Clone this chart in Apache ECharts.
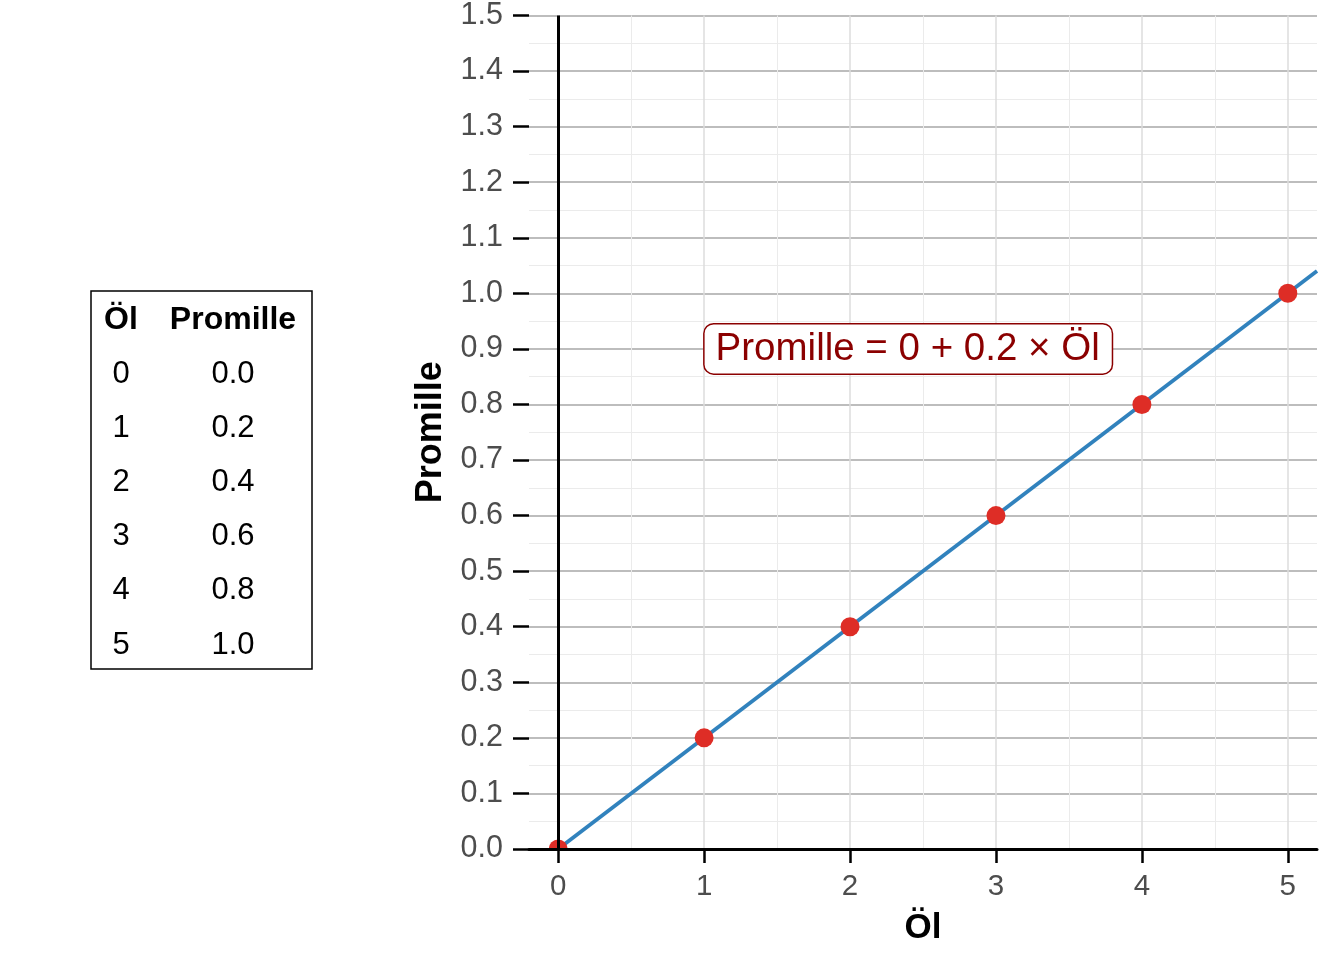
<!DOCTYPE html>
<html>
<head>
<meta charset="utf-8">
<script src="https://cdn.jsdelivr.net/npm/echarts@6/dist/echarts.min.js"></script>
<style>
html,body{margin:0;padding:0;background:#fff;}
#chart{width:1344px;height:960px;}
</style>
</head>
<body>
<div id="chart"></div>
<script>
// ---- data ----
const oel = [0, 1, 2, 3, 4, 5];
const promille = [0.0, 0.2, 0.4, 0.6, 0.8, 1.0];
const intercept = 0;
const slope = 0.2;
const xTicks = [0, 1, 2, 3, 4, 5];
const xMinorGrid = [0.5, 1.5, 2.5, 3.5, 4.5];
const xMin = -0.2, xMax = 5.2;
const yMin = 0, yMax = 1.5, yStep = 0.1;
const annotationText = 'Promille = 0 + 0.2 × Öl';
const annotationAt = [1, 0.9];
const tableHeader = ['Öl', 'Promille'];

const FONT = '"Liberation Sans", Arial, sans-serif';

const points = oel.map((x, i) => [x, promille[i]]);
const fitLine = [[0, intercept + slope * 0], [xMax, intercept + slope * xMax]];

// table built from the data arrays
const tableChildren = [];
tableChildren.push({
  type: 'rect', shape: { x: 91, y: 291, width: 221, height: 378 },
  style: { fill: '#fff', stroke: '#000', lineWidth: 1.5 }
});
const colX = [121, 233];
tableHeader.forEach((h, j) => {
  tableChildren.push({
    type: 'text', x: colX[j], y: 320,
    style: { text: h, font: 'bold 32px ' + FONT, fill: '#000', textAlign: 'center', textVerticalAlign: 'middle' }
  });
});
oel.forEach((v, i) => {
  const y = 374 + i * 54.2;
  tableChildren.push({
    type: 'text', x: colX[0], y: y,
    style: { text: String(v), font: '31px ' + FONT, fill: '#000', textAlign: 'center', textVerticalAlign: 'middle' }
  });
  tableChildren.push({
    type: 'text', x: colX[1], y: y,
    style: { text: promille[i].toFixed(1), font: '31px ' + FONT, fill: '#000', textAlign: 'center', textVerticalAlign: 'middle' }
  });
});

const mlBase = { symbol: ['none', 'none'], silent: true, label: { show: false }, animation: false };

const chart = echarts.init(document.getElementById('chart'), null, { renderer: 'canvas' });
chart.setOption({
  animation: false,
  backgroundColor: '#fff',
  textStyle: { fontFamily: FONT },
  grid: { left: 529, right: 27, top: 14, bottom: 111, containLabel: false },
  xAxis: {
    type: 'value', min: xMin, max: xMax, z: 10,
    axisLine: { show: true, onZero: false, lineStyle: { color: '#000', width: 3 } },
    axisTick: { show: true, customValues: xTicks, length: 14, lineStyle: { color: '#000', width: 2.5 } },
    axisLabel: { show: true, customValues: xTicks, fontSize: 29.5, color: '#4d4d4d', margin: 23, fontFamily: FONT },
    splitLine: { show: false },
    name: 'Öl', nameLocation: 'middle', nameGap: 62,
    nameTextStyle: { fontSize: 35, fontWeight: 'bold', color: '#000', fontFamily: FONT }
  },
  yAxis: {
    type: 'value', min: yMin, max: yMax, interval: yStep, z: 0,
    axisLine: { show: false, onZero: false },
    axisTick: { show: true, length: 16, lineStyle: { color: '#000', width: 2.5 } },
    axisLabel: { fontSize: 30.5, color: '#4d4d4d', margin: 26, fontFamily: FONT, formatter: v => v.toFixed(1) },
    splitLine: { show: true, lineStyle: { color: '#bdbdbd', width: 2 } },
    minorTick: { show: false, splitNumber: 2 },
    minorSplitLine: { show: true, lineStyle: { color: '#ebebeb', width: 1 } },
    name: 'Promille', nameLocation: 'middle', nameGap: 80, nameRotate: 90,
    nameTextStyle: { fontSize: 36, fontWeight: 'bold', color: '#000', fontFamily: FONT }
  },
  graphic: {
    elements: [
      { type: 'group', children: tableChildren },
      { type: 'rect', z: 6, shape: { x: 540, y: 850.5, width: 36, height: 12 }, style: { fill: '#fff' } }
    ]
  },
  series: [
    {
      name: 'minorx', type: 'line', data: [], z: 0,
      markLine: Object.assign({}, mlBase, {
        z: 0,
        lineStyle: { color: '#ebebeb', width: 1, type: 'solid' },
        data: xMinorGrid.map(v => ({ xAxis: v }))
      })
    },
    {
      name: 'majorx', type: 'line', data: [], z: 1,
      markLine: Object.assign({}, mlBase, {
        z: 1,
        lineStyle: { color: '#dcdcdc', width: 1.5, type: 'solid' },
        data: xTicks.map(v => ({ xAxis: v }))
      })
    },
    {
      name: 'fit', type: 'line', data: fitLine, z: 3,
      showSymbol: false, symbol: 'none',
      lineStyle: { color: '#3182bd', width: 3.8 }, silent: true
    },
    {
      name: 'points', type: 'scatter', data: points, z: 4,
      symbol: 'circle', symbolSize: 19, itemStyle: { color: '#de2d26', opacity: 1 }, clip: false
    },
    {
      name: 'vline', type: 'line', data: [], z: 11,
      markLine: Object.assign({}, mlBase, {
        z: 11,
        lineStyle: { color: '#000', width: 3, type: 'solid' },
        data: [{ xAxis: 0 }]
      })
    },
    {
      name: 'annotation', type: 'scatter', data: [annotationAt], z: 12,
      symbol: 'rect', symbolSize: 1, itemStyle: { color: 'rgba(0,0,0,0)', opacity: 1 }, silent: true,
      label: {
        show: true, position: 'right', distance: 0,
        formatter: annotationText,
        fontSize: 38.5, color: '#8b0000', fontFamily: FONT,
        backgroundColor: '#fff', borderColor: '#8b0000', borderWidth: 1.5, borderRadius: 9,
        padding: [5, 12, 1, 11], lineHeight: 43
      }
    }
  ]
});
</script>
</body>
</html>
